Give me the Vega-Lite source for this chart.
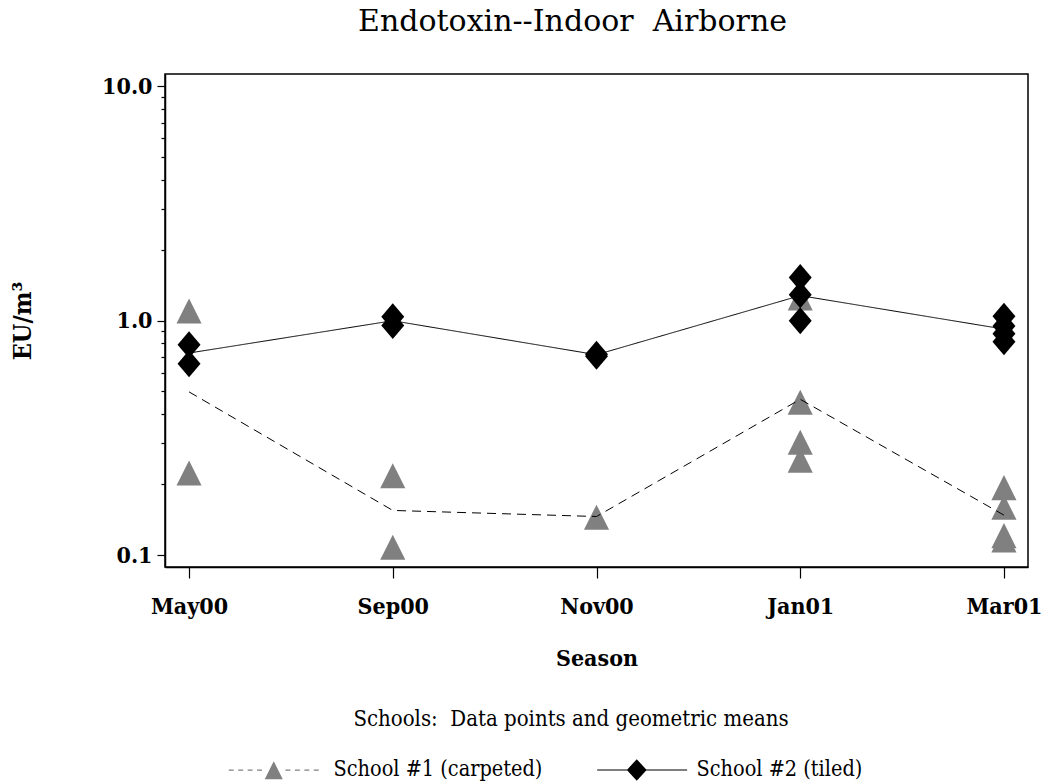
{
  "$schema": "https://vega.github.io/schema/vega-lite/v6.json",
  "width": 863,
  "height": 493,
  "autosize": {"type": "none"},
  "padding": {"left": 165, "top": 74, "right": 14, "bottom": 217},
  "title": {
    "text": "Endotoxin--Indoor\u00a0 Airborne",
    "font": "DejaVu Serif",
    "fontSize": 30,
    "fontWeight": "normal",
    "anchor": "middle",
    "frame": "group",
    "dx": -24,
    "offset": 37
  },
  "config": {
    "font": "DejaVu Serif Condensed, DejaVu Serif, serif",
    "view": {"stroke": "black", "strokeWidth": 1.5},
    "axis": {
      "domainColor": "black",
      "domainWidth": 1.5,
      "tickColor": "black",
      "labelColor": "black",
      "titleColor": "black",
      "labelFontWeight": "bold",
      "titleFontWeight": "bold",
      "grid": false
    },
    "legend": {
      "orient": "none",
      "legendX": 98,
      "legendY": 635,
      "direction": "horizontal",
      "titleOrient": "top",
      "titleAnchor": "middle",
      "titleFontSize": 22,
      "titleFontWeight": "normal",
      "titleColor": "black",
      "titlePadding": 28,
      "titleLimit": 0,
      "labelFontSize": 21.5,
      "labelColor": "black",
      "labelLimit": 0,
      "labelOffset": 49,
      "columnPadding": 54,
      "symbolSize": 324
    },
    "title": {"color": "black"}
  },
  "datasets": {
    "points": [
      {"season": "May00", "school": "School #1 (carpeted)", "value": 1.10},
      {"season": "May00", "school": "School #1 (carpeted)", "value": 0.224},
      {"season": "Sep00", "school": "School #1 (carpeted)", "value": 0.218},
      {"season": "Sep00", "school": "School #1 (carpeted)", "value": 0.108},
      {"season": "Nov00", "school": "School #1 (carpeted)", "value": 0.145},
      {"season": "Jan01", "school": "School #1 (carpeted)", "value": 1.25},
      {"season": "Jan01", "school": "School #1 (carpeted)", "value": 0.449},
      {"season": "Jan01", "school": "School #1 (carpeted)", "value": 0.303},
      {"season": "Jan01", "school": "School #1 (carpeted)", "value": 0.254},
      {"season": "Mar01", "school": "School #1 (carpeted)", "value": 0.194},
      {"season": "Mar01", "school": "School #1 (carpeted)", "value": 0.160},
      {"season": "Mar01", "school": "School #1 (carpeted)", "value": 0.121},
      {"season": "Mar01", "school": "School #1 (carpeted)", "value": 0.116},
      {"season": "May00", "school": "School #2 (tiled)", "value": 0.79},
      {"season": "May00", "school": "School #2 (tiled)", "value": 0.655},
      {"season": "Sep00", "school": "School #2 (tiled)", "value": 1.04},
      {"season": "Sep00", "school": "School #2 (tiled)", "value": 0.955},
      {"season": "Nov00", "school": "School #2 (tiled)", "value": 0.72},
      {"season": "Nov00", "school": "School #2 (tiled)", "value": 0.705},
      {"season": "Jan01", "school": "School #2 (tiled)", "value": 1.53},
      {"season": "Jan01", "school": "School #2 (tiled)", "value": 1.29},
      {"season": "Jan01", "school": "School #2 (tiled)", "value": 1.0},
      {"season": "Mar01", "school": "School #2 (tiled)", "value": 1.045},
      {"season": "Mar01", "school": "School #2 (tiled)", "value": 0.95},
      {"season": "Mar01", "school": "School #2 (tiled)", "value": 0.88},
      {"season": "Mar01", "school": "School #2 (tiled)", "value": 0.813}
    ],
    "means": [
      {"season": "May00", "school": "School #1 (carpeted)", "mean": 0.497},
      {"season": "Sep00", "school": "School #1 (carpeted)", "mean": 0.155},
      {"season": "Nov00", "school": "School #1 (carpeted)", "mean": 0.146},
      {"season": "Jan01", "school": "School #1 (carpeted)", "mean": 0.462},
      {"season": "Mar01", "school": "School #1 (carpeted)", "mean": 0.148},
      {"season": "May00", "school": "School #2 (tiled)", "mean": 0.728},
      {"season": "Sep00", "school": "School #2 (tiled)", "mean": 1.0},
      {"season": "Nov00", "school": "School #2 (tiled)", "mean": 0.716},
      {"season": "Jan01", "school": "School #2 (tiled)", "mean": 1.28},
      {"season": "Mar01", "school": "School #2 (tiled)", "mean": 0.921}
    ]
  },
  "layer": [
    {
      "data": {"name": "points"},
      "mark": {"type": "point", "filled": true, "opacity": 1, "size": 729, "strokeWidth": 0},
      "encoding": {
        "x": {
          "field": "season",
          "type": "ordinal",
          "sort": ["May00", "Sep00", "Nov00", "Jan01", "Mar01"],
          "scale": {"type": "point", "padding": 0.118},
          "title": "Season",
          "axis": {
            "labelAngle": 0,
            "labelFontSize": 23,
            "titleFontSize": 23,
            "tickSize": 11,
            "tickWidth": 1.2,
            "labelPadding": 17,
            "titlePadding": 29
          }
        },
        "y": {
          "field": "value",
          "type": "quantitative",
          "scale": {"type": "log", "domain": [0.0889, 11.3], "nice": false},
          "title": "EU/m³",
          "axis": {
            "values": [0.1, 0.2, 0.3, 0.4, 0.5, 0.6, 0.7, 0.8, 0.9, 1, 2, 3, 4, 5, 6, 7, 8, 9, 10],
            "labelExpr": "datum.value == 0.1 || datum.value == 1 || datum.value == 10 ? format(datum.value, '.1f') : ''",
            "labelOverlap": false,
            "labelFontSize": 23,
            "titleFontSize": 25,
            "tickWidth": 1.2,
            "tickSize": {"condition": {"test": "datum.value == 0.1 || datum.value == 1 || datum.value == 10", "value": 8}, "value": 4},
            "labelPadding": 5,
            "titlePadding": 66
          }
        },
        "shape": {
          "condition": {"test": "datum.school === 'School #1 (carpeted)'", "value": "M0,-0.93L0.93,0.93L-0.93,0.93Z"},
          "value": "M0,-1L0.85,0L0,1L-0.85,0Z"
        },
        "color": {
          "field": "school",
          "type": "nominal",
          "scale": {"domain": ["School #1 (carpeted)", "School #2 (tiled)"], "range": ["#808080", "#000000"]},
          "legend": {"title": "Schools:\u00a0 Data points and geometric means"}
        }
      }
    },
    {
      "data": {"name": "means"},
      "mark": {"type": "line", "color": "black", "strokeWidth": 1},
      "encoding": {
        "x": {"field": "season", "type": "ordinal", "sort": ["May00", "Sep00", "Nov00", "Jan01", "Mar01"], "title": "Season"},
        "y": {"field": "mean", "type": "quantitative", "title": "EU/m³"},
        "detail": {"field": "school", "type": "nominal"},
        "strokeDash": {
          "field": "school",
          "type": "nominal",
          "scale": {"range": [[9, 6], [1, 0]]},
          "legend": null
        }
      }
    },
    {
      "data": {"name": "means"},
      "transform": [{"filter": "false"}],
      "mark": {"type": "point", "filled": true, "opacity": 1, "size": 324, "strokeWidth": 0},
      "encoding": {
        "x": {"field": "season", "type": "ordinal", "sort": ["May00", "Sep00", "Nov00", "Jan01", "Mar01"], "title": "Season"},
        "y": {"field": "mean", "type": "quantitative", "title": "EU/m³"},
        "shape": {
          "field": "school",
          "type": "nominal",
          "scale": {
            "domain": ["School #1 (carpeted)", "School #2 (tiled)"],
            "range": [
              "M0,-1L1,1L-1,1Z M-5,-0.06H-4.45V0.06H-5Z M-3.95,-0.06H-3.4V0.06H-3.95Z M-2.9,-0.06H-2.35V0.06H-2.9Z M-1.85,-0.06H-1.3V0.06H-1.85Z M1.3,-0.06H1.85V0.06H1.3Z M2.35,-0.06H2.9V0.06H2.35Z M3.4,-0.06H3.95V0.06H3.4Z M4.45,-0.06H5V0.06H4.45Z",
              "M0,-1.2L1.1,0L0,1.2L-1.1,0Z M-4.4,-0.06H5.6V0.06H-4.4Z M27,0L27,0Z"
            ]
          },
          "legend": {"title": "Schools:\u00a0 Data points and geometric means"}
        },
        "color": {
          "field": "school",
          "type": "nominal",
          "legend": {"title": "Schools:\u00a0 Data points and geometric means"}
        }
      }
    }
  ]
}
